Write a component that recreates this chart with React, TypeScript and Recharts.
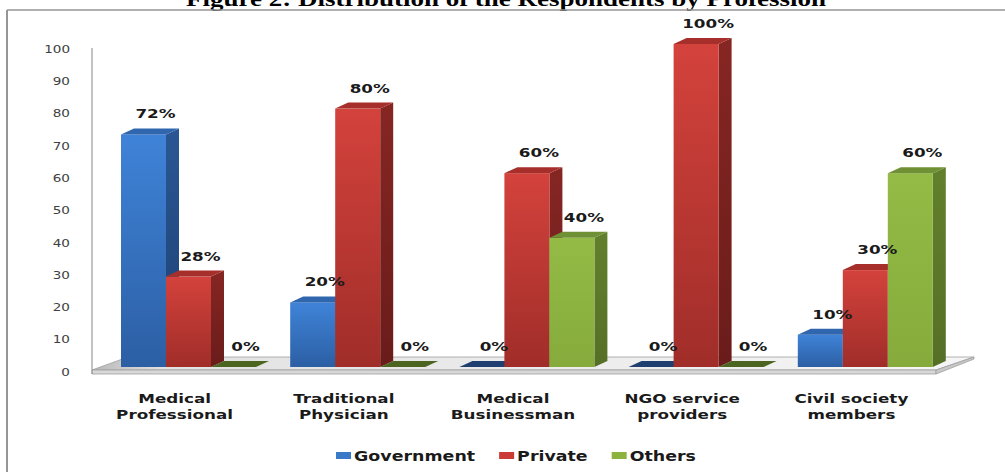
import React from 'react';
import { BarChart, Bar, XAxis, YAxis, LabelList } from 'recharts';

// ---------- data ----------
const categories = [
  'Medical\nProfessional',
  'Traditional\nPhysician',
  'Medical\nBusinessman',
  'NGO service\nproviders',
  'Civil society\nmembers',
];
const governmentValues = [72, 20, 0, 0, 10];
const privateValues = [28, 80, 60, 100, 30];
const othersValues = [0, 0, 40, 0, 60];
const yTicks = [0, 10, 20, 30, 40, 50, 60, 70, 80, 90, 100];
const seriesKeys = ['government', 'private', 'others'];
const seriesNames = ['Government', 'Private', 'Others'];
const titleText = 'Figure 2: Distribution of the Respondents by Profession';

const data = categories.map((category, i) => ({
  category,
  government: governmentValues[i],
  private: privateValues[i],
  others: othersValues[i],
}));

// ---------- styling ----------
const W = 1005;
const H = 472;
const SX = 1.29; // horizontal stretch of the reference's text
const SHIFT = 12; // bar group offset inside band (3D look)
const DX = 13;
const DY = 6;
const SANS = '"DejaVu Sans", Verdana, sans-serif';

type Pal = { frontTop: string; frontBottom: string; sideTop: string; sideBottom: string; top: string; zero: string; legend: string };
const PALETTE: Record<string, Pal> = {
  government: { frontTop: '#3f83d8', frontBottom: '#2c5fa4', sideTop: '#2a5794', sideBottom: '#1e4072', top: '#2f66ae', zero: '#1f3f70', legend: '#3a78c8' },
  private: { frontTop: '#d4423c', frontBottom: '#a02d29', sideTop: '#862623', sideBottom: '#6a1c1a', top: '#a72f2b', zero: '#7a2220', legend: '#cc3a36' },
  others: { frontTop: '#93bb45', frontBottom: '#86ab3c', sideTop: '#62802c', sideBottom: '#566f27', top: '#6f9034', zero: '#4c6621', legend: '#8db33e' },
};

// ---------- shapes ----------
const makeShape = (key: string) => (props: any) => {
  const { x, y, width, height } = props;
  if (x == null || y == null) return null;
  const x0 = x + SHIFT;
  const h = Math.max(0, height || 0);
  const top = y;
  const bottom = y + h;
  const pal = PALETTE[key];
  return (
    <g>
      {h > 0 && (
        <polygon
          points={`${x0 + width},${bottom} ${x0 + width + DX},${bottom - DY} ${x0 + width + DX},${top - DY} ${x0 + width},${top}`}
          fill={`url(#side-${key})`}
        />
      )}
      {h > 0 && <rect x={x0} y={top} width={width} height={h} fill={`url(#front-${key})`} />}
      <polygon
        points={`${x0},${top} ${x0 + DX},${top - DY} ${x0 + width + DX},${top - DY} ${x0 + width},${top}`}
        fill={h > 0 ? pal.top : pal.zero}
      />
    </g>
  );
};

const renderLabel = (props: any) => {
  const { x, y, width, value } = props;
  if (x == null || y == null) return null;
  const cx = x + width / 2 + SHIFT + 12;
  return (
    <g transform={`translate(${cx},${y - 16}) scale(${SX},1)`}>
      <text textAnchor="middle" fontFamily={SANS} fontWeight="bold" fontSize={13} fill="#1a1a1a">
        {`${value}%`}
      </text>
    </g>
  );
};

const XTick = (props: any) => {
  const { x, y, payload } = props;
  const lines = String(payload.value).split('\n');
  return (
    <g>
      {lines.map((ln, i) => (
        <g key={i} transform={`translate(${x - 2},${y + 36 + i * 16}) scale(${SX},1)`}>
          <text textAnchor="middle" fontFamily={SANS} fontWeight="bold" fontSize={13} fill="#1a1a1a">
            {ln}
          </text>
        </g>
      ))}
    </g>
  );
};

const YTick = (props: any) => {
  const { x, y, payload } = props;
  return (
    <g transform={`translate(${x},${y + 5}) scale(${SX},1)`}>
      <text textAnchor="end" dy="0.36em" fontFamily={SANS} fontSize={10.5} fill="#404040">
        {payload.value}
      </text>
    </g>
  );
};

function measure(text: string, font: string): number {
  try {
    const ctx = document.createElement('canvas').getContext('2d');
    if (!ctx) return text.length * 8;
    ctx.font = font;
    return ctx.measureText(text).width;
  } catch {
    return text.length * 8;
  }
}

const LegendSvg = () => {
  const font = `bold 13.5px ${SANS}`;
  const rectW = 15;
  const gapRT = 3;
  const gapItem = 24;
  const widths = seriesNames.map((n) => measure(n, font) * SX);
  const total = widths.reduce((a, w) => a + rectW + gapRT + w, 0) + gapItem * (seriesNames.length - 1);
  let cur = 516 - total / 2;
  return (
    <g>
      {seriesNames.map((n, i) => {
        const x = cur;
        cur += rectW + gapRT + widths[i] + gapItem;
        return (
          <g key={n}>
            <rect x={x} y={452} width={rectW} height={7} fill={PALETTE[seriesKeys[i]].legend} />
            <g transform={`translate(${x + rectW + gapRT},461) scale(${SX},1)`}>
              <text fontFamily={SANS} fontWeight="bold" fontSize={13.5} fill="#1a1a1a">
                {n}
              </text>
            </g>
          </g>
        );
      })}
    </g>
  );
};

const Background = () => {
  const fl = 92, fr = 936, ff = 370, fb = 357, fdx = 38, th = 4;
  return (
    <svg width={W} height={H} style={{ position: 'absolute', left: 0, top: 0 }}>
      <defs>
        {seriesKeys.map((k) => (
          <React.Fragment key={k}>
            <linearGradient id={`front-${k}`} x1="0" y1="0" x2="0" y2="1">
              <stop offset="0%" stopColor={PALETTE[k].frontTop} />
              <stop offset="100%" stopColor={PALETTE[k].frontBottom} />
            </linearGradient>
            <linearGradient id={`side-${k}`} x1="0" y1="0" x2="0" y2="1">
              <stop offset="0%" stopColor={PALETTE[k].sideTop} />
              <stop offset="100%" stopColor={PALETTE[k].sideBottom} />
            </linearGradient>
          </React.Fragment>
        ))}
        <linearGradient id="floor" x1="0" y1="0" x2="1" y2="0">
          <stop offset="0%" stopColor="#b8b8b8" />
          <stop offset="8%" stopColor="#e2e2e2" />
          <stop offset="100%" stopColor="#f6f6f6" />
        </linearGradient>
      </defs>
      <rect x={0} y={0} width={W} height={H} fill="#ffffff" />
      {/* title, clipped at top */}
      <g transform={`translate(506,6) scale(1.35,1)`}>
        <text textAnchor="middle" fontFamily='"Liberation Serif", "Times New Roman", serif' fontWeight="bold" fontSize={20} fill="#000">
          {titleText}
        </text>
      </g>
      {/* frame */}
      <line x1={7} y1={10} x2={W} y2={10} stroke="#969696" strokeWidth={1.6} />
      <line x1={7} y1={10} x2={7} y2={H} stroke="#969696" strokeWidth={2} />
      {/* floor */}
      <polygon points={`${fl},${ff} ${fr},${ff} ${fr + fdx},${fb} ${fl + fdx - 2},${fb}`} fill="url(#floor)" stroke="#a0a0a0" strokeWidth={0.8} />
      <polygon points={`${fl},${ff} ${fr},${ff} ${fr},${ff + th} ${fl},${ff + th}`} fill="#d8d8d8" stroke="#a0a0a0" strokeWidth={0.8} />
      <polygon points={`${fr},${ff} ${fr + fdx},${fb} ${fr + fdx},${fb + 2} ${fr},${ff + th}`} fill="#c8c8c8" stroke="#a0a0a0" strokeWidth={0.8} />
      {/* y axis line */}
      <line x1={92} y1={48} x2={92} y2={ff + th} stroke="#9a9a9a" strokeWidth={1.2} />
      <LegendSvg />
    </svg>
  );
};

export default function App() {
  return (
    <div style={{ position: 'absolute', left: 0, top: 0, width: W, height: H }}>
      <Background />
      <div style={{ position: 'absolute', left: 0, top: 0 }}>
        <BarChart
          width={W}
          height={H}
          data={data}
          margin={{ top: 44, right: 67, bottom: 45, left: 0 }}
          barGap={0}
          barSize={45}
        >
          <XAxis
            dataKey="category"
            axisLine={false}
            tickLine={false}
            tickSize={0}
            tickMargin={0}
            height={60}
            interval={0}
            tick={<XTick />}
          />
          <YAxis
            domain={[0, 100]}
            ticks={yTicks}
            axisLine={false}
            tickLine={false}
            tickSize={0}
            tickMargin={22}
            width={92}
            interval={0}
            tick={<YTick />}
          />
          {seriesKeys.map((k, i) => (
            <Bar key={k} dataKey={k} name={seriesNames[i]} isAnimationActive={false} shape={makeShape(k)}>
              <LabelList dataKey={k} content={renderLabel} />
            </Bar>
          ))}
        </BarChart>
      </div>
    </div>
  );
}
